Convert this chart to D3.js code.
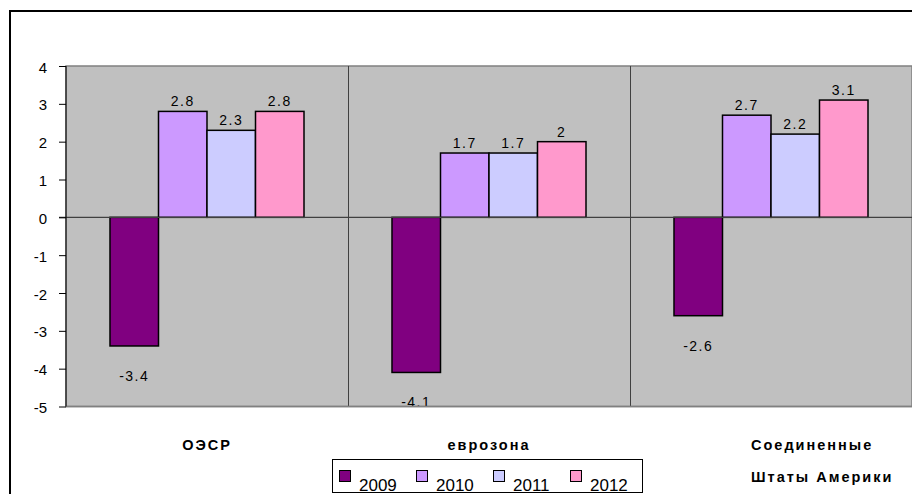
<!DOCTYPE html>
<html>
<head>
<meta charset="utf-8">
<script src="https://cdn.jsdelivr.net/npm/d3@7"></script>
<style>
  body { margin: 0; background: #fff; }
  svg { display: block; font-family: "Liberation Sans", Arial, sans-serif; }
</style>
</head>
<body>
<svg id="chart" width="912" height="494"></svg>
<script>
const categories = ['ОЭСР', 'еврозона', 'Соединенные Штаты Америки'];
const years = ['2009', '2010', '2011', '2012'];
const v2009 = [-3.4, -4.1, -2.6];
const v2010 = [2.8, 1.7, 2.7];
const v2011 = [2.3, 1.7, 2.2];
const v2012 = [2.8, 2.0, 3.1];
const yTicks = [4, 3, 2, 1, 0, -1, -2, -3, -4, -5];
const colors = ['#800080', '#cc99ff', '#ccccff', '#ff99cc'];

const series = [v2009, v2010, v2011, v2012];
const rows = categories.map((c, i) => ({cat: c, vals: years.map((y, j) => ({year: y, v: series[j][i]}))}));

const svg = d3.select('#chart');
const pLeft = 66, pRight = 912, pTop = 66, pBottom = 406.5;

// outer chart frame (runs off the window to the right and bottom)
svg.append('rect').attr('x', 10).attr('y', 11).attr('width', 1000).attr('height', 1000)
  .attr('fill', '#fff').attr('stroke', '#000').attr('stroke-width', 2);

const y = d3.scaleLinear().domain([-5, 4]).range([pBottom, pTop]);
const x0 = d3.scaleBand().domain(categories).range([pLeft, pRight]).padding(0);
const x1 = d3.scaleBand().domain(years).range([0, x0.bandwidth()]).paddingInner(0).paddingOuter(0.907);
const color = d3.scaleOrdinal().domain(years).range(colors);

// plot area
svg.append('rect').attr('x', pLeft).attr('y', pTop).attr('width', pRight - pLeft).attr('height', pBottom - pTop)
  .attr('fill', '#c0c0c0').attr('stroke', '#808080').attr('stroke-width', 1.5);

// category separators
svg.append('g').selectAll('line').data(categories.slice(1)).join('line')
  .attr('x1', d => x0(d) + 0.5).attr('x2', d => x0(d) + 0.5)
  .attr('y1', pTop).attr('y2', pBottom)
  .attr('stroke', '#404040').attr('stroke-width', 1);

// bars
const g = svg.append('g').selectAll('g').data(rows).join('g')
  .attr('transform', d => `translate(${x0(d.cat)},0)`);

g.selectAll('rect').data(d => d.vals).join('rect')
  .attr('x', d => x1(d.year))
  .attr('y', d => y(Math.max(0, d.v)))
  .attr('width', x1.bandwidth())
  .attr('height', d => Math.abs(y(d.v) - y(0)))
  .attr('fill', d => color(d.year))
  .attr('stroke', '#000').attr('stroke-width', 1.5);

// zero line
svg.append('line').attr('x1', pLeft - 7).attr('x2', pRight).attr('y1', y(0)).attr('y2', y(0))
  .attr('stroke', '#404040').attr('stroke-width', 1.2);

// value labels
g.selectAll('text').data(d => d.vals).join('text')
  .attr('x', d => x1(d.year) + x1.bandwidth() / 2)
  .attr('y', d => d.v >= 0 ? y(d.v) - 5 : y(d.v) + 35)
  .attr('text-anchor', 'middle')
  .attr('font-size', 14).attr('letter-spacing', 1.5)
  .attr('fill', '#000')
  .text(d => d.v);

// plot bottom border redrawn over clipped labels
svg.append('line').attr('x1', pLeft).attr('x2', pRight).attr('y1', pBottom).attr('y2', pBottom)
  .attr('stroke', '#808080').attr('stroke-width', 1.5);

// y axis
const yAxis = d3.axisLeft(y).tickValues(yTicks).tickSize(7).tickFormat(d3.format('d'));
const ya = svg.append('g').attr('transform', `translate(${pLeft},0)`).call(yAxis);
ya.select('.domain').attr('stroke', '#000').attr('d', `M0,${pTop}V${pBottom}`);
ya.selectAll('.tick line').attr('stroke', '#000');
ya.selectAll('.tick text').attr('x', -19).attr('dy', '0.4em')
  .attr('font-size', 15).attr('font-family', '"Liberation Sans", Arial, sans-serif').attr('fill', '#000')
  .text(d => d < 0 ? '-' + Math.abs(d) : d);

// category labels
const catLabels = svg.append('g').selectAll('text').data(categories).join('text')
  .attr('font-size', 14.5).attr('font-weight', 'bold').attr('letter-spacing', 2)
  .attr('fill', '#000');
catLabels.each(function (d) {
  const words = d.split(' ');
  const lines = words.length > 2 ? [words[0], words.slice(1).join(' ')] : [d];
  const t = d3.select(this);
  const multi = lines.length > 1;
  t.attr('text-anchor', multi ? 'start' : 'middle')
    .attr('x', multi ? x0(d) + 121 : x0(d) + x0.bandwidth() / 2)
    .attr('y', 450);
  lines.forEach((ln, i) => {
    t.append('tspan').attr('x', t.attr('x')).attr('dy', i === 0 ? 0 : 31.5).text(ln);
  });
});

// legend
const legX = d3.scaleBand().domain(years).range([335, 643]);
const leg = svg.append('g');
leg.append('rect').attr('x', 332.5).attr('y', 459.5).attr('width', 310).attr('height', 33)
  .attr('fill', '#fff').attr('stroke', '#000').attr('stroke-width', 1);
const li = leg.selectAll('g').data(years).join('g')
  .attr('transform', d => `translate(${legX(d)},0)`);
li.append('rect').attr('x', 4.5).attr('y', 470.5).attr('width', 11).attr('height', 11)
  .attr('fill', d => color(d)).attr('stroke', '#000').attr('stroke-width', 1);
li.append('text').attr('x', 24).attr('y', 491)
  .attr('font-size', 17).attr('fill', '#000').text(d => d);
</script>
</body>
</html>
